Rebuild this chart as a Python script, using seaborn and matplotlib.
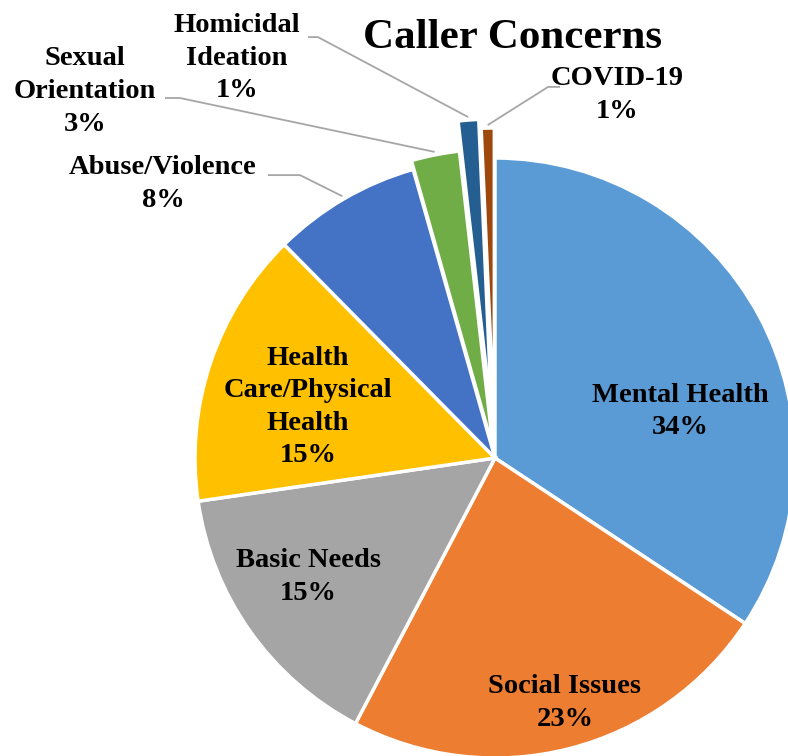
import numpy as np
import matplotlib
matplotlib.use("Agg")
import matplotlib.pyplot as plt
import seaborn as sns

categories = ["Mental Health", "Social Issues", "Basic Needs",
              "Health Care/Physical Health", "Abuse/Violence",
              "Sexual Orientation", "Homicidal Ideation", "COVID-19"]
values = [34.3, 23.4, 15.0, 14.9, 8.0, 2.6, 1.1, 0.7]
pct_labels = ["34%", "23%", "15%", "15%", "8%", "3%", "1%", "1%"]
display_names = ["Mental Health", "Social Issues", "Basic Needs",
                 "Health\nCare/Physical\nHealth", "Abuse/Violence",
                 "Sexual\nOrientation", "Homicidal\nIdeation", "COVID-19"]
colors = ["#5B9BD5", "#ED7D31", "#A5A5A5", "#FFC000",
          "#4472C4", "#70AD47", "#255E91", "#9E480E"]
explode = [0, 0, 0, 0, 0, 0.03, 0.13, 0.10]

sns.set_theme(style="white")
plt.rcParams['font.family'] = ['Liberation Serif', 'DejaVu Serif']

fig = plt.figure(figsize=(7.88, 7.56), dpi=100)
ax = fig.add_axes([0, 0, 1, 1])
ax.axis("off")

wedges, _ = ax.pie(values, colors=sns.color_palette(colors), startangle=90,
                   counterclock=False, explode=explode, radius=1.0,
                   wedgeprops=dict(edgecolor="white", linewidth=2.5))
ax.set_xlim(-1.65, 0.9767)
ax.set_ylim(-0.9933, 1.5267)
ax.set_aspect("equal", adjustable="box")

fs = 20.5
ls = 1.4
# inside labels
inside_pos = {0: (0.617, 0.155), 1: (0.233, -0.817), 2: (-0.623, -0.397), 3: (-0.623, 0.170)}
for i, (x, y) in inside_pos.items():
    ax.text(x, y, display_names[i] + "\n" + pct_labels[i], ha="center", va="center",
            fontsize=fs, fontweight="bold", color="black", linespacing=ls)

# outside labels with leader lines
outside = {
    4: ((-1.107, 0.913), (-0.757, 0.943), (-0.65, 0.943)),
    5: ((-1.367, 1.222), (-1.1, 1.2), (-1.05, 1.2)),
    6: ((-0.86, 1.333), (-0.623, 1.403), (-0.59, 1.403)),
    7: ((0.407, 1.21), (0.217, 1.237), (0.177, 1.237)),
}
for i, (lab, p1, p2) in outside.items():
    ax.text(lab[0], lab[1], display_names[i] + "\n" + pct_labels[i], ha="center",
            va="center", fontsize=fs, fontweight="bold", color="black", linespacing=ls)
    w = wedges[i]
    th = np.deg2rad((w.theta1 + w.theta2) / 2)
    cx, cy = w.center
    ex, ey = cx + 1.01 * np.cos(th), cy + 1.01 * np.sin(th)
    ax.plot([p1[0], p2[0], ex], [p1[1], p2[1], ey], color="#A6A6A6", lw=1.3,
            solid_capstyle="butt")

ax.text(0.057, 1.40, "Caller Concerns", ha="center", va="center",
        fontsize=31, fontweight="bold", color="black")

fig.savefig("out.png", dpi=100)
